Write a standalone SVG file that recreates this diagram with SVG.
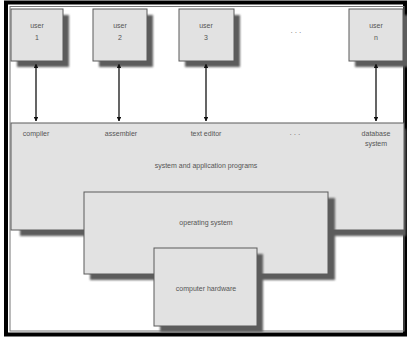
<svg xmlns="http://www.w3.org/2000/svg" width="407" height="337" viewBox="0 0 407 337">
<style>
.box{fill:#e2e2e2;stroke:#5a5a5a;stroke-width:1}
.sh{fill:#5c5c5c;filter:url(#blur)}
.t{font-family:"Liberation Sans",Arial,sans-serif;font-size:7px;fill:#555;text-anchor:middle}
.ln{stroke:#555;stroke-width:1.8;fill:none;marker-start:url(#ah);marker-end:url(#ah)}
</style>
<defs>
<filter id="blur" x="-10%" y="-10%" width="120%" height="120%"><feGaussianBlur stdDeviation="1.3"/></filter>
<marker id="ah" viewBox="0 0 10 10" refX="9" refY="5" markerWidth="2.6" markerHeight="2.6" orient="auto-start-reverse"><path d="M0,0 L10,5 L0,10 z" fill="#111"/></marker>
</defs>
<rect x="0" y="0" width="407" height="337" fill="#fff"/>
<rect x="6" y="2.5" width="399" height="332" fill="none" stroke="#000" stroke-width="4"/>
<rect x="10" y="6.5" width="394" height="324.5" fill="none" stroke="#777" stroke-width="1"/>

<g id="system-programs">
<rect class="sh" x="20" y="129" width="386" height="107"/>
<rect class="box" x="11" y="123" width="393" height="107"/>
<text class="t" x="36" y="136">compiler</text>
<text class="t" x="121" y="136">assembler</text>
<text class="t" x="206" y="136">text editor</text>
<text class="t" x="295" y="137">· · ·</text>
<text class="t" x="376" y="136">database</text>
<text class="t" x="376" y="146">system</text>
<text class="t" x="206" y="168">system and application programs</text>
</g>

<g id="operating-system">
<rect class="sh" x="90" y="198" width="245" height="82"/>
<rect class="box" x="84" y="192" width="244" height="82"/>
<text class="t" x="206" y="225">operating system</text>
</g>

<g id="computer-hardware">
<rect class="sh" x="160" y="254" width="103" height="78"/>
<rect class="box" x="154" y="248" width="103" height="78"/>
<text class="t" x="206" y="291">computer hardware</text>
</g>

<g id="user1">
<rect class="sh" x="17" y="15" width="52" height="52"/>
<rect class="box" x="11" y="9" width="52" height="52"/>
<text class="t" x="37" y="28">user</text>
<text class="t" x="37" y="40">1</text>
</g>
<g id="user2">
<rect class="sh" x="99" y="15" width="54" height="52"/>
<rect class="box" x="93" y="9" width="54" height="52"/>
<text class="t" x="120" y="28">user</text>
<text class="t" x="120" y="40">2</text>
</g>
<g id="user3">
<rect class="sh" x="185" y="15" width="55" height="52"/>
<rect class="box" x="179" y="9" width="55" height="52"/>
<text class="t" x="206" y="28">user</text>
<text class="t" x="206" y="40">3</text>
</g>
<text class="t" x="296" y="35">· · ·</text>
<g id="usern">
<rect class="sh" x="355" y="15" width="54" height="52"/>
<rect class="box" x="349" y="9" width="54" height="52"/>
<text class="t" x="376" y="28">user</text>
<text class="t" x="376" y="40">n</text>
</g>

<g id="connectors">
<line class="ln" x1="36" y1="64" x2="36" y2="121"/>
<line class="ln" x1="119" y1="64" x2="119" y2="121"/>
<line class="ln" x1="206" y1="64" x2="206" y2="121"/>
<line class="ln" x1="376" y1="64" x2="376" y2="121"/>
</g>
</svg>
